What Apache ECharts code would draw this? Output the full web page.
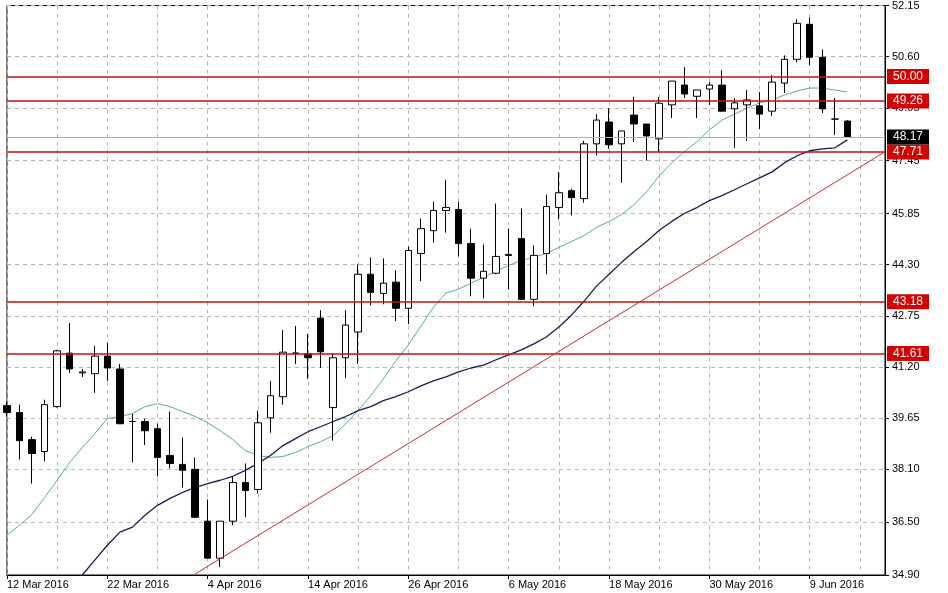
<!doctype html>
<html>
<head>
<meta charset="UTF-8">
<title>GLD Daily</title>
<script src="https://cdn.jsdelivr.net/npm/echarts@6/dist/echarts.min.js"></script>
<style>html,body{margin:0;padding:0;background:#fff}</style>
</head>
<body>
<div id="main" style="width:948px;height:593px;"></div>
<script>
// 日线 OHLC：[open, close, low, high]
var opens  = [40.03,39.82,39.00,38.64,40.00,41.62,41.02,41.00,41.53,41.14,39.55,39.55,39.33,38.52,38.25,38.10,36.53,35.41,36.53,37.70,37.49,39.66,40.30,41.62,41.60,42.68,39.97,41.48,42.26,44.01,43.43,43.77,42.98,44.64,45.33,45.94,45.97,44.94,43.89,44.04,44.61,45.09,43.25,44.64,46.03,46.54,46.30,47.96,48.62,47.96,48.83,48.56,48.11,49.14,49.74,49.40,49.62,49.74,49.02,49.14,49.11,48.95,49.80,50.52,51.58,50.58,48.71,48.65];
var closes = [39.82,38.97,38.58,40.06,41.69,41.14,41.05,41.53,41.17,39.48,39.55,39.27,38.46,38.28,38.07,36.65,35.41,36.53,37.70,37.46,39.51,40.33,41.65,41.62,41.48,41.66,41.48,42.47,44.01,43.46,43.74,42.98,44.73,45.39,45.94,46.03,44.94,43.89,44.10,44.55,44.58,43.25,44.58,46.06,46.48,46.33,47.96,48.68,47.93,48.35,48.56,48.20,49.19,49.86,49.47,49.59,49.74,48.95,49.20,49.29,48.86,49.83,50.52,51.61,50.58,49.02,48.71,48.17];
var highs  = [40.15,40.06,39.09,40.21,41.72,42.53,41.14,41.84,41.93,41.29,39.78,39.63,39.48,39.85,39.06,38.46,37.19,36.53,37.89,38.28,39.88,40.78,42.32,42.44,42.20,42.92,41.62,42.92,44.31,44.52,44.49,44.13,44.85,45.70,46.21,46.87,46.21,45.39,44.91,46.15,45.39,46.00,44.88,46.42,47.11,46.60,48.05,48.86,49.04,48.35,49.38,48.56,49.38,49.86,50.28,49.59,49.83,50.19,49.35,49.59,49.53,50.04,50.64,51.73,51.79,50.82,49.35,48.68];
var lows   = [39.70,38.40,37.67,38.34,39.97,41.02,40.90,40.42,40.78,39.48,38.31,38.84,37.89,38.13,37.55,36.62,35.41,35.14,36.41,36.65,37.37,39.21,40.06,41.29,40.84,41.17,38.97,40.87,41.29,43.07,43.10,42.59,42.50,43.80,44.97,45.27,44.55,43.34,43.28,44.01,43.55,43.25,43.04,44.01,45.67,45.79,46.18,47.60,47.81,46.78,48.02,47.45,47.72,48.74,49.35,48.74,49.14,48.95,47.84,48.05,48.41,48.80,49.50,50.43,50.34,48.89,48.23,48.17];
// 两条均线
var maFast = [36.11,36.41,36.74,37.25,37.77,38.31,38.76,39.18,39.64,39.70,39.79,40.00,40.09,40.00,39.85,39.70,39.51,39.27,39.00,38.67,38.52,38.46,38.49,38.61,38.79,38.94,39.12,39.48,39.88,40.33,40.84,41.38,41.87,42.44,43.01,43.44,43.56,43.74,43.92,44.10,44.28,44.43,44.52,44.64,44.82,45.00,45.18,45.43,45.61,45.82,46.12,46.51,46.99,47.39,47.72,48.02,48.38,48.68,48.86,49.04,49.20,49.29,49.44,49.56,49.65,49.65,49.59,49.53];
var maSlow = [null,null,null,null,null,null,34.90,35.35,35.80,36.20,36.35,36.71,37.01,37.22,37.40,37.55,37.67,37.77,37.89,38.07,38.28,38.52,38.82,39.03,39.24,39.39,39.55,39.70,39.88,40.00,40.18,40.30,40.45,40.63,40.78,40.90,41.05,41.17,41.26,41.42,41.57,41.72,41.90,42.11,42.41,42.77,43.19,43.65,44.01,44.37,44.70,45.00,45.34,45.61,45.85,46.03,46.24,46.39,46.57,46.75,46.93,47.11,47.39,47.60,47.75,47.81,47.84,48.08];
var dateLabels = ['12 Mar 2016','22 Mar 2016','4 Apr 2016','14 Apr 2016','26 Apr 2016','6 May 2016','18 May 2016','30 May 2016','9 Jun 2016'];
var priceTicks = [34.90,36.50,38.10,39.65,41.20,42.75,44.30,45.85,47.45,49.05,50.60,52.15];
var levels = [50.00,49.26,47.71,43.18,41.61];
var lastPrice = 48.17;
var trendStart = [15, 34.93], trendEnd = [70, 47.72];

var N = 71;
var cats = [], ohlc = [];
for (var i = 0; i < N; i++) {
    cats.push(String(i));
    if (i < opens.length) ohlc.push([opens[i], closes[i], lows[i], highs[i]]);
    else ohlc.push('-');
}

var myChart = echarts.init(document.getElementById('main'));
var font = 'Liberation Sans';

var lines = levels.map(function (v) {
    return {yAxis: v, lineStyle: {color: '#c41010', width: 1.6, type: 'solid'},
        label: {backgroundColor: '#d40000', color: '#fff'}};
});
lines.push({yAxis: lastPrice, lineStyle: {color: '#b0b0b0', width: 1, type: 'solid'},
    label: {backgroundColor: '#000', color: '#fff'}});
lines.push([{coord: trendStart, symbol: 'none'}, {coord: trendEnd, symbol: 'none',
    lineStyle: {color: '#c03030', width: 1, type: 'solid'}, label: {show: false}}]);

var option = {
    animation: false,
    backgroundColor: '#fff',
    grid: {left: 7, right: 63, top: 3, bottom: 18, show: true, borderColor: '#000', borderWidth: 1},
    xAxis: {
        type: 'category', data: cats, boundaryGap: false,
        axisLine: {lineStyle: {color: '#000'}},
        axisTick: {interval: 7, length: 4, lineStyle: {color: '#000'}},
        axisLabel: {interval: 7, align: 'left', margin: 4, fontFamily: font, fontSize: 11, color: '#000',
            formatter: function (v, idx) { return dateLabels[idx / 8] || ''; }},
        splitLine: {show: true, interval: 3, lineStyle: {color: '#b8b8b8', type: [4, 4]}}
    },
    yAxis: {
        type: 'value', position: 'right', min: 34.90, max: 52.15, scale: true,
        axisLine: {show: true, lineStyle: {color: '#000'}},
        axisTick: {show: true, length: 4, customValues: priceTicks, lineStyle: {color: '#000'}},
        axisLabel: {customValues: priceTicks, margin: 7, fontFamily: font, fontSize: 11, color: '#000',
            formatter: function (v) { return v.toFixed(2); }},
        splitLine: {show: true, lineStyle: {color: '#b8b8b8', type: [4, 4]}}
    },
    series: [
        {
            type: 'candlestick', data: ohlc, barWidth: 7,
            itemStyle: {color: '#fff', color0: '#000', borderColor: '#000', borderColor0: '#000', borderWidth: 1},
            markLine: {
                silent: true, symbol: 'none', precision: 2,
                label: {show: true, position: 'end', distance: 2, fontFamily: font, fontSize: 12,
                    padding: [2, 6, 1, 6], formatter: function (p) { return p.value.toFixed(2); }},
                data: lines
            },
            z: 3
        },
        {type: 'line', data: maFast, showSymbol: false, lineStyle: {color: '#5aa8a8', width: 1}, z: 2},
        {type: 'line', data: maSlow, showSymbol: false, lineStyle: {color: '#1a1a50', width: 1.3}, z: 2}
    ]
};
myChart.setOption(option);
</script>
</body>
</html>
